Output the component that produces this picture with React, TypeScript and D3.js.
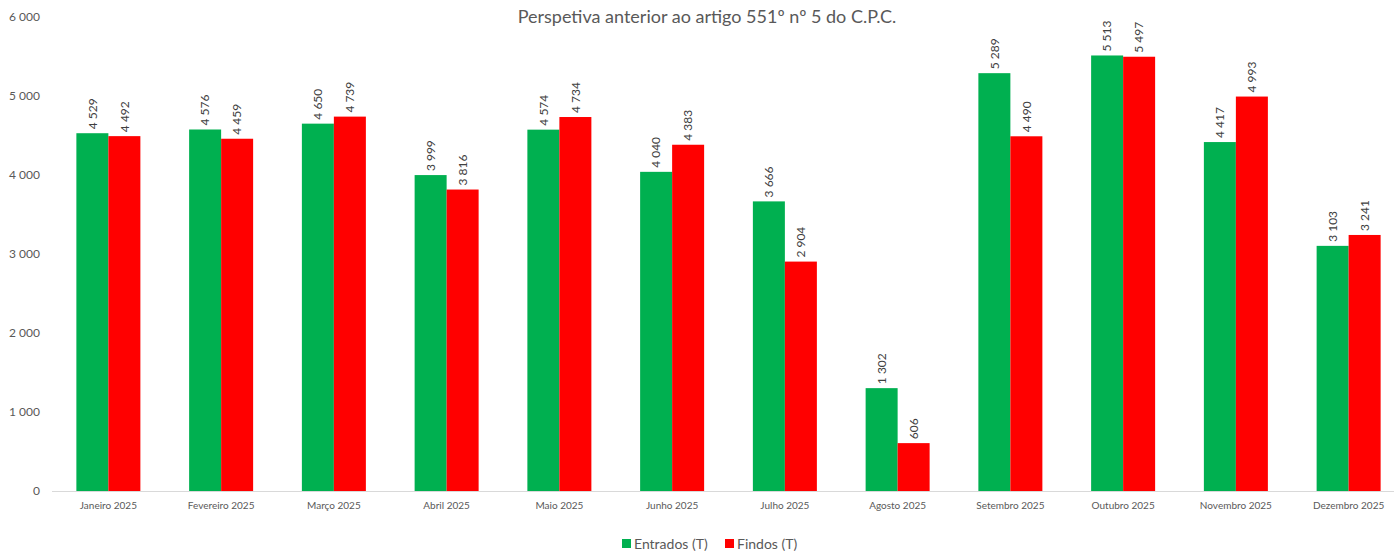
import React from "react";
import * as d3 from "d3";

const categories = [
  "Janeiro 2025", "Fevereiro 2025", "Março 2025", "Abril 2025", "Maio 2025", "Junho 2025",
  "Julho 2025", "Agosto 2025", "Setembro 2025", "Outubro 2025", "Novembro 2025", "Dezembro 2025",
];
const entrados = [4529, 4576, 4650, 3999, 4574, 4040, 3666, 1302, 5289, 5513, 4417, 3103];
const findos = [4492, 4459, 4739, 3816, 4734, 4383, 2904, 606, 4490, 5497, 4993, 3241];
const yTicks = [0, 1000, 2000, 3000, 4000, 5000, 6000];
const seriesNames = ["Entrados (T)", "Findos (T)"];
const seriesColors = ["#00B050", "#FF0000"];
const title = "Perspetiva anterior ao artigo 551º nº 5 do C.P.C.";

const W = 1394;
const H = 551;
const FONT = "Lato, 'Open Sans', sans-serif";
const fmt = (v: number) => d3.format(",")(v).replace(/,/g, " ");

export default function App() {
  const x = d3.scaleBand<string>().domain(categories).range([52, 1405]).paddingInner(0).paddingOuter(0);
  const y = d3.scaleLinear().domain([0, 6000]).range([491, 17]);
  const barW = 32;
  const series = [entrados, findos];

  return (
    <div style={{ position: "absolute", left: 0, top: 0, width: W, height: H, background: "#fff" }}>
      <svg width={W} height={H} style={{ display: "block", fontFamily: FONT }}>
        <text x={707} y={23} textAnchor="middle" fontSize={18} fill="#595959">{title}</text>
        {yTicks.map((t) => (
          <text key={t} x={40} y={y(t)} dy="0.35em" textAnchor="end" fontSize={12} fill="#595959">{fmt(t)}</text>
        ))}
        {categories.map((c, i) => {
          const cx = (x(c) as number) + x.bandwidth() / 2;
          return (
            <g key={c}>
              {series.map((s, k) => {
                const bx = cx - barW + k * barW;
                const by = y(s[i]);
                const lx = bx + barW / 2;
                return (
                  <g key={k}>
                    <rect x={bx} y={by} width={barW} height={y(0) - by} fill={seriesColors[k]} />
                    <text
                      transform={`translate(${lx},${by - 4}) rotate(-90)`}
                      dy="0.35em"
                      fontSize={12}
                      fill="#404040"
                    >{fmt(s[i])}</text>
                  </g>
                );
              })}
              <text x={cx} y={509} textAnchor="middle" fontSize={10} fill="#595959">{c}</text>
            </g>
          );
        })}
        <line x1={52} x2={W} y1={491.5} y2={491.5} stroke="#D9D9D9" strokeWidth={1} />
        {seriesNames.map((n, k) => {
          const lx = k === 0 ? 622 : 725;
          return (
            <g key={n}>
              <rect x={lx} y={539} width={9} height={9} fill={seriesColors[k]} />
              <text x={lx + 12} y={548.5} fontSize={14} fill="#595959">{n}</text>
            </g>
          );
        })}
      </svg>
    </div>
  );
}
